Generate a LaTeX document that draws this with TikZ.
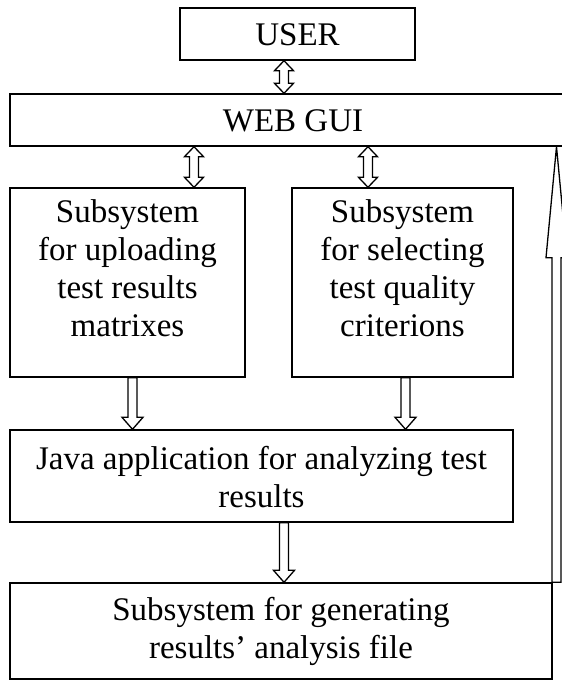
\documentclass[tikz,border=0pt]{standalone}
\usepackage{fontspec}
\setmainfont{Liberation Serif}
\usetikzlibrary{calc}
\newcommand{\blkdbl}[2]{\path[blk] let \p1=(#1), \p2=(#2) in
  (\x1,\y1) -- (\x1+9.5pt,\y1-10pt) -- (\x1+4.5pt,\y1-10pt) -- (\x1+4.5pt,\y2+10pt) -- (\x1+9.5pt,\y2+10pt) -- (\x1,\y2)
  -- (\x1-9.5pt,\y2+10pt) -- (\x1-4.5pt,\y2+10pt) -- (\x1-4.5pt,\y1-10pt) -- (\x1-9.5pt,\y1-10pt) -- cycle;}
\newcommand{\blkdn}[2]{\path[blk] let \p1=(#1), \p2=(#2) in
  (\x1-4.5pt,\y1) -- (\x1-4.5pt,\y2+12pt) -- (\x1-10.5pt,\y2+12pt) -- (\x1,\y2) -- (\x1+10.5pt,\y2+12pt) -- (\x1+4.5pt,\y2+12pt) -- (\x1+4.5pt,\y1) -- cycle;}
\newcommand{\blkup}[2]{\path[blk] let \p1=(#1), \p2=(#2) in
  (\x1-4.5pt,\y1) -- (\x1-4.5pt,\y2-111pt) -- (\x1-10.5pt,\y2-111pt) -- (\x1,\y2) -- (\x1+10.5pt,\y2-111pt) -- (\x1+4.5pt,\y2-111pt) -- (\x1+4.5pt,\y1) -- cycle;}
\begin{document}
\begin{tikzpicture}[x=1pt,y=-1pt]
\tikzset{
  box/.style={draw, line width=1.4pt, inner sep=0pt, rectangle},
  txt/.style={align=center, font=\fontsize{33}{38}\selectfont, inner sep=0pt},
  blk/.style={draw, line width=1.3pt, line join=miter}
}
\clip (0,0) rectangle (562,680);
\fill[white] (0,0) rectangle (562,680);
% boxes
\node[box, minimum width=235, minimum height=52] (user) at (297.5,34) {};
\node[box, minimum width=566, minimum height=52] (gui) at (293,120) {};
\node[box, minimum width=235, minimum height=189] (up) at (127.5,282.5) {};
\node[box, minimum width=221, minimum height=189] (sel) at (402.5,282.5) {};
\node[box, minimum width=503, minimum height=92] (java) at (261.5,476) {};
\node[box, minimum width=542, minimum height=96] (gen) at (281,631) {};
% texts
\node[txt] (tuser) at (297.5,35) {USER};
\node[txt] (tgui) at (293,121) {WEB GUI};
\node[txt] (tup) at (127.5,268) {Subsystem\\for uploading\\test results\\matrixes};
\node[txt] (tsel) at (402.5,268) {Subsystem\\for selecting\\test quality\\criterions};
\node[txt] (tjava) at (261.5,477) {Java application for analyzing test\\results};
\node[txt] (tgen) at (281,631) {Subsystem for generating\\results’ analysis file};
% arrows
\blkdbl{284,0 |- user.south}{284,0 |- gui.north}
\blkdbl{194,0 |- gui.south}{194,0 |- up.north}
\blkdbl{368,0 |- gui.south}{368,0 |- sel.north}
\blkdn{132.5,0 |- up.south}{132.5,0 |- java.north}
\blkdn{405.5,0 |- sel.south}{405.5,0 |- java.north}
\blkdn{284,0 |- java.south}{284,0 |- gen.north}
\blkup{556.5,0 |- gen.north}{556.5,0 |- gui.south}
\end{tikzpicture}
\end{document}
